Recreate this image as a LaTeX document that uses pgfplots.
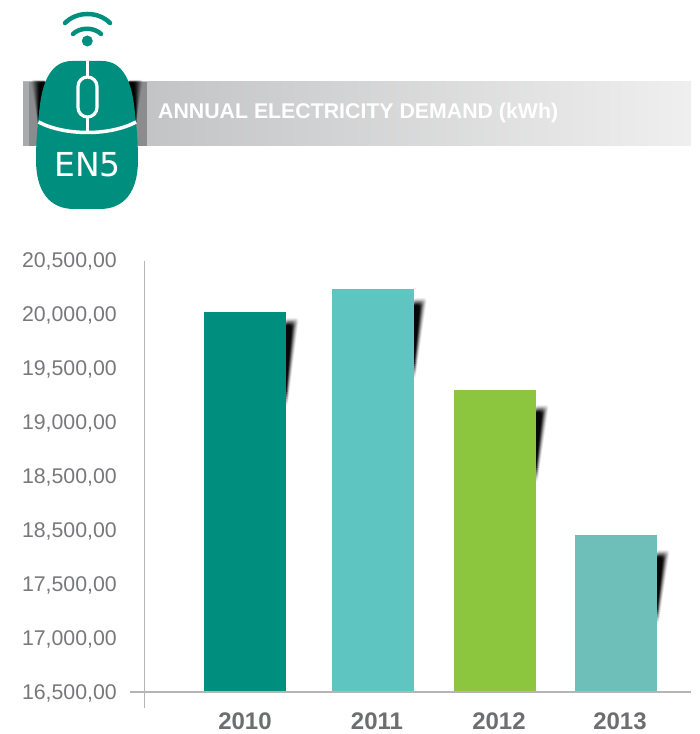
\documentclass[border=0pt]{standalone}
\usepackage{fontspec}
\setmainfont{Liberation Sans}
\newfontfamily\dejavu{DejaVu Sans}
\usepackage{pgfplots}
\pgfplotsset{compat=1.18}
\definecolor{teal1}{HTML}{008F7F}
\definecolor{teal2}{HTML}{5FC5C1}
\definecolor{green1}{HTML}{8CC63F}
\definecolor{teal3}{HTML}{6EBFB9}
\definecolor{axisgrey}{HTML}{B5B5B8}
\definecolor{ticky}{HTML}{77787B}
\definecolor{tickx}{HTML}{6D6E71}
\definecolor{bandL}{HTML}{B9BABC}
\definecolor{bandM}{HTML}{CDCECF}
\definecolor{bandR}{HTML}{EFEFEF}
\definecolor{bandD}{HTML}{8A8C8E}
\definecolor{bandS}{HTML}{A9AAAC}
\newcommand{\wedgeshadow}[3]{% right edge, top, bottom (pixels from top)
  \foreach \w/\o in {13/0.06,12.2/0.08,11.4/0.1,10.6/0.13,9.8/0.17,9/0.22,8.2/0.3,7.4/0.4,6.6/0.5,5.8/0.7}{
    \fill[black,opacity=\o,rounded corners=3pt] (#1-1,{734-#2-(13-\w)*1.0}) -- (#1+\w,{734-#2-(13-\w)*1.0}) -- ({#1+(\w-5)*0.2},{734-#3+(13-\w)*2.2}) -- (#1-1,{734-#3+(13-\w)*2.2}) -- cycle;
  }
}
\begin{document}
\begin{tikzpicture}[x=1pt,y=1pt]
\useasboundingbox (0,0) rectangle (700,734);
% header band
\shade[left color=bandL,middle color=bandM,right color=bandR] (23,734-82) rectangle (691,734-146);
\fill[bandS] (23,734-82) rectangle (29,734-146);
\fill[bandD] (29,734-82) rectangle (147,734-146);
% shadow of the mouse on the band
\foreach \w/\o in {12/0.08,11/0.1,10/0.13,9/0.16,8/0.2,7/0.25,6/0.3,5/0.4,4/0.55,3/0.75}{
  \fill[black,opacity=\o,rounded corners=2pt] (128,{734-80-(12-\w)*0.3}) -- (131+\w,{734-80-(12-\w)*0.3}) -- (136,734-124) -- (128,734-124) -- cycle;
  \fill[black,opacity=\o,rounded corners=2pt] (46,{734-80-(12-\w)*0.3}) -- (43-\w,{734-80-(12-\w)*0.3}) -- (38,734-124) -- (46,734-124) -- cycle;
}
\node[anchor=base west,inner sep=0pt,text=white,font=\bfseries\fontsize{21.3}{22}\selectfont] at (158,734-118.5) {ANNUAL ELECTRICITY DEMAND (kWh)};
% wifi
\fill[teal1] (87.3,734-41) circle (5.5);
\draw[teal1,line width=4.5pt,line cap=round] (73,734-34) .. controls (80,734-27) and (94,734-27) .. (101,734-34);
\draw[teal1,line width=4.5pt,line cap=round] (65,734-23) .. controls (77,734-11) and (98,734-11) .. (110,734-23);
% mouse
\fill[teal1] (72,734-61) -- (102,734-61)
  .. controls (122,734-61) and (131,734-80) .. (134,734-105)
  .. controls (137,734-128) and (138,734-145) .. (138,734-160)
  .. controls (138,734-192) and (124,734-209) .. (100,734-209)
  -- (74,734-209)
  .. controls (50,734-209) and (36,734-192) .. (36,734-160)
  .. controls (36,734-145) and (37,734-128) .. (40,734-105)
  .. controls (43,734-80) and (52,734-61) .. (72,734-61) -- cycle;
\draw[white,line width=3.5pt] (87.4,734-61) -- (87.4,734-77);
\draw[white,line width=3.2pt,rounded corners=9.5pt] (78,734-77) rectangle (97,734-117);
\draw[white,line width=3.5pt] (87.4,734-117) -- (87.4,734-131);
\draw[white,line width=3.5pt] (38.5,734-122) .. controls (65,734-136) and (110,734-136) .. (136,734-122);
\node[inner sep=0pt,text=white,font=\dejavu\fontsize{33}{33}\selectfont] at (87.5,734-164.5) {EN5};
% bar shadows
\wedgeshadow{286}{318}{406}
\wedgeshadow{414}{298}{378}
\wedgeshadow{536}{405}{482}
\wedgeshadow{657}{550}{624}
% chart
\begin{axis}[
  at={(144.5,39)},anchor=south west,
  scale only axis,width=546.5pt,height=432pt,
  xmin=144.5,xmax=691,ymin=16500,ymax=20500,
  axis line style={draw=none},
  major tick length=0pt,
  scaled y ticks=false,
  ybar,
  bar width=82,
  clip=false,
  xtick={245,377,499,620},
  xticklabels={2010,2011,2012,2013},
  ytick={16500,17000,17500,18000,18500,19000,19500,20000,20500},
  yticklabels={{16,500,00},{17,000,00},{17,500,00},{18,500,00},{18,500,00},{19,000,00},{19,500,00},{20,000,00},{20,500,00}},
  x tick label style={font=\bfseries\fontsize{24}{24}\selectfont,text=tickx,inner sep=0pt,anchor=center,yshift=-29.5pt},
  y tick label style={font=\fontsize{21.3}{23}\selectfont,text=ticky,inner sep=0pt,anchor=east,xshift=-27.5pt,yshift=-2pt},
]
\addplot[ybar,bar shift=0pt,fill=teal1,draw=none] coordinates {(245,20018)};
\addplot[ybar,bar shift=0pt,fill=teal2,draw=none] coordinates {(373,20231)};
\addplot[ybar,bar shift=0pt,fill=green1,draw=none] coordinates {(495,19296)};
\addplot[ybar,bar shift=0pt,fill=teal3,draw=none] coordinates {(616,17954)};
\end{axis}
% axis lines
\draw[axisgrey,line width=1.5pt] (144.5,734-261) -- (144.5,734-708);
\draw[axisgrey,line width=1.5pt] (130,734-692) -- (691,734-692);
\end{tikzpicture}
\end{document}
